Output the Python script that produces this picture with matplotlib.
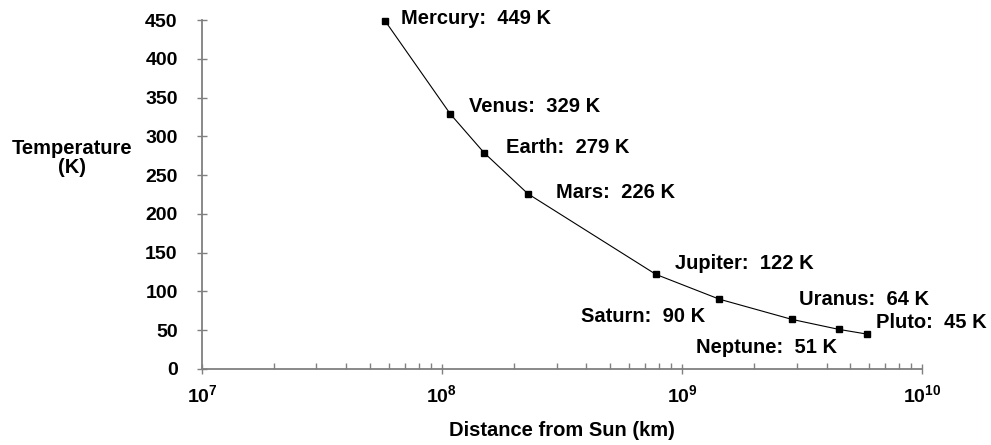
import matplotlib
matplotlib.use("Agg")
import matplotlib.pyplot as plt
from matplotlib.ticker import LogLocator, FixedLocator, NullFormatter

plt.rcParams['font.family'] = ['Liberation Sans', 'DejaVu Sans']
plt.rcParams['font.weight'] = 'bold'
plt.rcParams['mathtext.fontset'] = 'custom'
plt.rcParams['mathtext.rm'] = 'Liberation Sans:bold'
plt.rcParams['mathtext.bf'] = 'Liberation Sans:bold'

planets = ["Mercury", "Venus", "Earth", "Mars", "Jupiter", "Saturn", "Uranus", "Neptune", "Pluto"]
distance_km = [5.79e7, 1.082e8, 1.496e8, 2.279e8, 7.785e8, 1.432e9, 2.867e9, 4.515e9, 5.9e9]
temp_k = [449, 329, 279, 226, 122, 90, 64, 51, 45]
y_ticks = [0, 50, 100, 150, 200, 250, 300, 350, 400, 450]
x_ticks = [1e7, 1e8, 1e9, 1e10]
x_tick_labels = [r'$10^{7}$', r'$10^{8}$', r'$10^{9}$', r'$10^{10}$']

# label offsets in points from the marker (dx, dy to baseline, ha)
offsets = {
    "Mercury": (11.5, -2.2, "left"),
    "Venus": (13.7, 1.4, "left"),
    "Earth": (15.8, 0, "left"),
    "Mars": (20, -2.9, "left"),
    "Jupiter": (13.7, 3.6, "left"),
    "Saturn": (-10, -16.6, "right"),
    "Uranus": (5, 10, "left"),
    "Neptune": (-1.4, -17.3, "right"),
    "Pluto": (6.5, 4.3, "left"),
}

fig = plt.figure(figsize=(9.91, 4.45), dpi=100)
ax = fig.add_axes([0.2038, 0.1708, 0.7266, 0.7842])

ax.plot(distance_km, temp_k, color="black", linewidth=0.8, marker="s",
        markersize=5, markerfacecolor="black", clip_on=False)

for name, x, y in zip(planets, distance_km, temp_k):
    dx, dy, ha = offsets[name]
    ax.annotate(f"{name}:  {y} K", (x, y), xytext=(dx, dy), textcoords="offset points",
                ha=ha, va="baseline", fontsize=14.5, fontweight="bold")

ax.set_xscale("log")
ax.set_xlim(1e7, 1e10)
ax.set_ylim(0, 450)
ax.xaxis.set_major_locator(FixedLocator(x_ticks))
ax.set_xticklabels(x_tick_labels, fontsize=14)
ax.xaxis.set_minor_locator(LogLocator(base=10, subs=range(2, 10)))
ax.xaxis.set_minor_formatter(NullFormatter())
ax.set_yticks(y_ticks)
ax.set_yticklabels([str(t) for t in y_ticks], fontsize=14, fontweight="bold")

for s in ["top", "right"]:
    ax.spines[s].set_visible(False)
for s in ["left", "bottom"]:
    ax.spines[s].set_color("#808080")
    ax.spines[s].set_linewidth(1.3)

ax.tick_params(axis="both", which="major", direction="inout", length=7, color="#808080", width=1)
ax.tick_params(axis="x", which="minor", direction="in", length=4, color="#808080", width=1)
ax.tick_params(axis="y", pad=14)
ax.tick_params(axis="x", pad=8)

ax.set_xlabel("Distance from Sun (km)", fontsize=14.5, fontweight="bold", labelpad=10)
fig.text(0.073, 0.645, "Temperature\n(K)", ha="center", va="center",
         fontsize=14.5, fontweight="bold", linespacing=1.05)

plt.savefig("out.png", dpi=100)
